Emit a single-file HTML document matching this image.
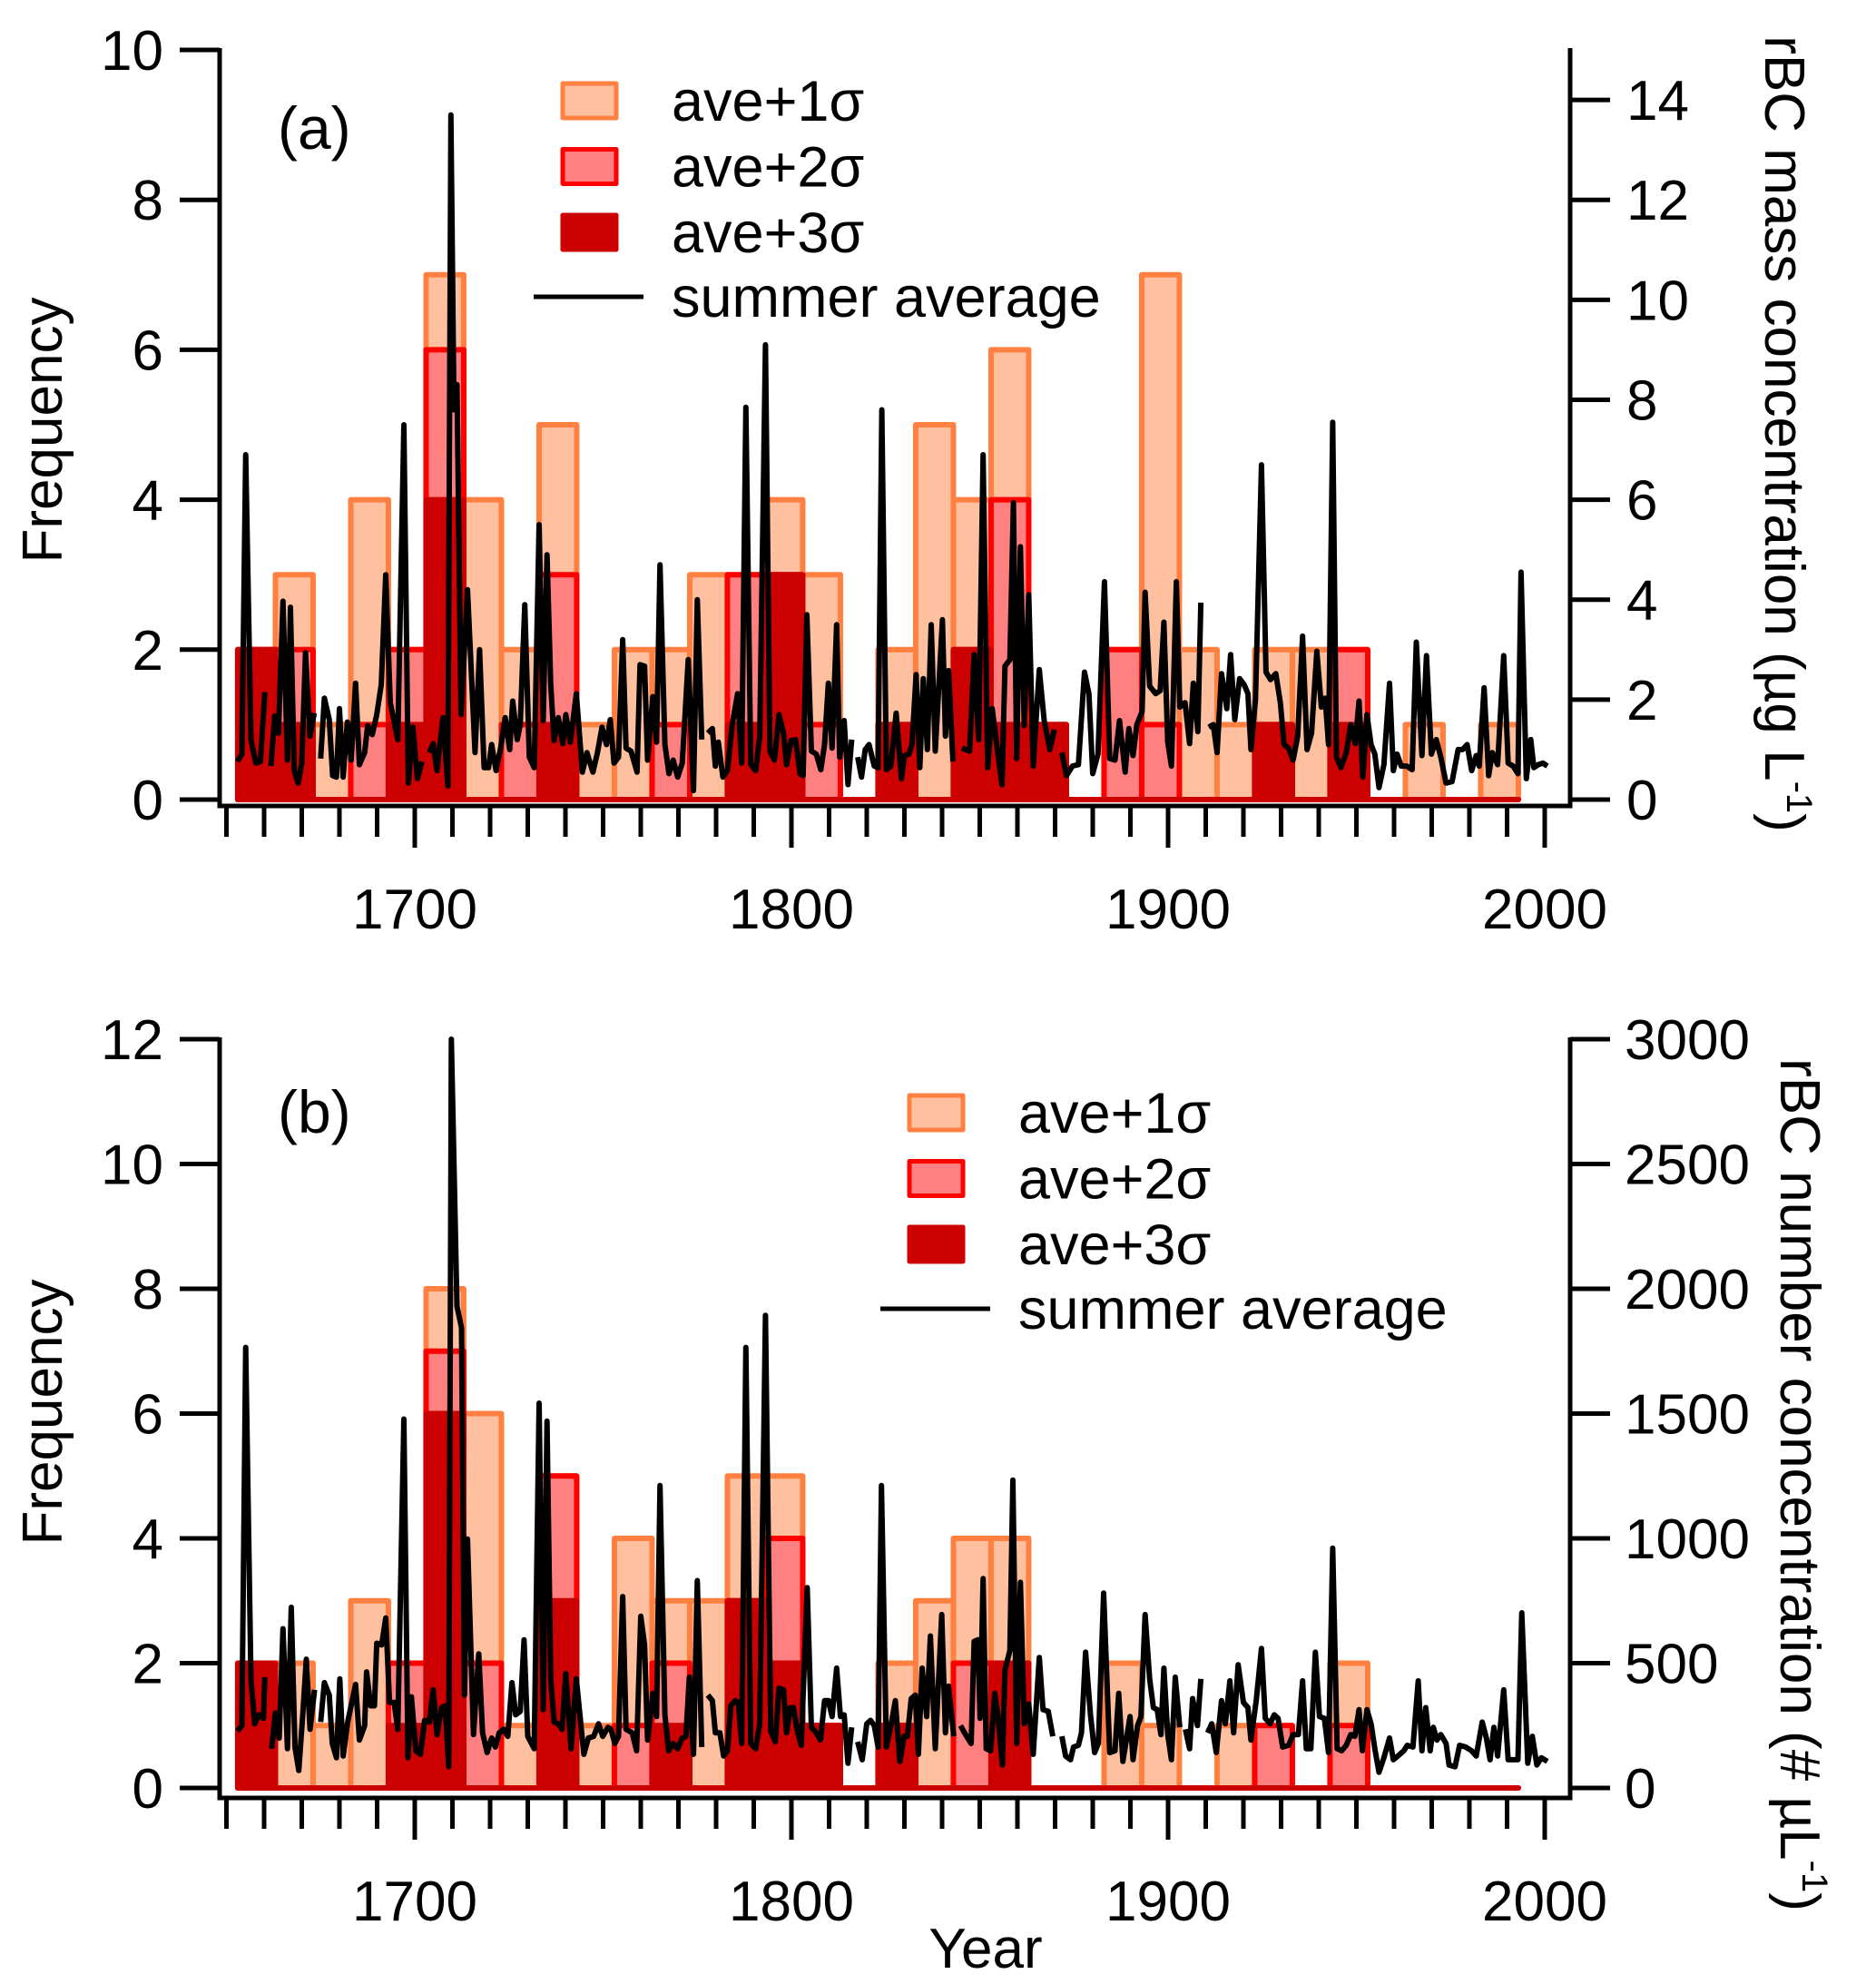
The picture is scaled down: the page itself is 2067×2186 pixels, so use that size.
<!DOCTYPE html>
<html><head><meta charset="utf-8"><style>
html,body{margin:0;padding:0;background:#fff;}
svg{display:block;font-family:"Liberation Sans",Arial,sans-serif;}
</style></head><body>
<svg id="chart" width="2067" height="2186" viewBox="0 0 2067 2186" xmlns="http://www.w3.org/2000/svg">
<rect x="0" y="0" width="2067" height="2186" fill="#fff"/>
<g id="panelA"></g>
<g id="panelB"></g>
</svg>
<script>
// ---------- data ----------
const binStarts = [1653,1663,1673,1683,1693,1703,1713,1723,1733,1743,1753,1763,1773,1783,1793,1803,1813,1823,1833,1843,1853,1863,1873,1883,1893,1903,1913,1923,1933,1943,1953,1963,1973,1983];
const aSig1 = [2,3,1,4,2,7,4,2,5,1,2,2,3,3,4,3,0,2,5,4,6,1,0,2,7,2,1,2,2,2,0,1,0,1];
const aSig2 = [2,2,0,1,2,6,0,1,3,0,0,1,0,3,3,1,0,1,0,2,4,1,0,2,1,0,0,1,0,2,0,0,0,0];
const aSig3 = [2,1,0,0,1,4,0,0,1,0,0,0,0,1,3,0,0,1,0,2,1,1,0,0,0,0,0,1,0,1,0,0,0,0];
const bSig1 = [2,2,1,3,2,8,6,1,5,1,4,3,3,5,5,1,0,2,3,4,4,0,0,2,1,0,1,1,0,2,0,0,0,0];
const bSig2 = [2,0,0,0,2,7,2,0,5,0,1,2,0,3,4,1,0,1,0,2,2,0,0,0,0,0,0,1,0,1,0,0,0,0];
const bSig3 = [2,0,0,0,1,6,0,0,3,0,0,1,0,3,2,1,0,1,0,0,2,0,0,0,0,0,0,0,0,0,0,0,0,0];

const yearsA = [1652.9,1654.1,1655.1,1656.5,1657.8,1659.0,1660.2,1661,1661.8,1662.8,1663.8,1665.0,1666.2,1667.0,1668.0,1669.0,1670.0,1671.0,1672.2,1673.3,1674,1675.0,1676.0,1677.3,1678.2,1679.2,1680.0,1681.0,1682.1,1683.1,1684.3,1685.3,1686.7,1687.5,1688.7,1689.9,1691.1,1692.3,1693.5,1695.5,1697.1,1698.3,1699.5,1700.7,1701.9,1703,1703.9,1704.9,1705.9,1707.5,1708.8,1709.6,1710.4,1711.2,1712.3,1714.0,1716.0,1717.2,1718.4,1719.6,1720.4,1721.6,1722.8,1724.0,1725.2,1726.0,1727.2,1728.0,1729.2,1730.4,1731.7,1733.0,1734.1,1735.1,1736.1,1737.0,1738.1,1739.3,1740.1,1741.3,1742.9,1744.5,1745.7,1747.3,1748.5,1749.7,1750.9,1751.9,1752.9,1754.1,1755.2,1756.1,1757.4,1759.0,1759.8,1761.0,1761.8,1763.2,1764.2,1765.1,1766.4,1767.5,1768.6,1769.8,1771.0,1772.6,1774.0,1775.0,1776.2,1777,1777.8,1779.0,1779.8,1780.6,1781.8,1783.0,1784.3,1785.7,1786.8,1787.9,1789.2,1790.5,1791.6,1793.1,1794.3,1795.5,1796.7,1797.9,1798.7,1799.9,1801.1,1802.3,1803.1,1804.1,1805.3,1806.6,1807.8,1808.8,1809.8,1810.8,1812.0,1812.8,1814.0,1815.0,1816.0,1817,1817.6,1818.6,1819.6,1820.6,1822.0,1823.0,1824.0,1825.2,1826.4,1827.8,1829.2,1830.0,1831.2,1832.0,1833.1,1834.1,1835.0,1836.1,1837.1,1838.2,1840.1,1840.9,1841.7,1842.9,1844,1845.3,1847.3,1848.5,1849.7,1850.9,1852.1,1853.3,1854.5,1855.9,1856.7,1858.0,1858.95,1859.8,1860.8,1861.8,1863.0,1864.2,1865.8,1867.1,1868.6,1869.8,1871,1871.8,1873.0,1874.6,1876.2,1877.8,1879.0,1880.0,1881.4,1883.1,1884.5,1885.9,1887.1,1888.6,1889.6,1890.7,1891.7,1893.1,1893.9,1895.1,1896.7,1897.9,1898.9,1899.9,1900.9,1902.2,1903.1,1904.5,1905.7,1906.7,1907.9,1908.7,1910,1910.8,1912.0,1913.0,1914.2,1915.6,1916.6,1917.7,1919.0,1920.2,1921.2,1922.0,1923.2,1924.8,1926.0,1927.2,1928.6,1929.8,1930.8,1932.0,1933.2,1934.4,1935.7,1936.9,1938.1,1939.5,1940.7,1941.7,1942.6,1943.7,1944.7,1945.9,1947.3,1948.5,1949.7,1950.7,1951.7,1952.8,1953.9,1954.9,1956.0,1957.3,1958.8,1959.8,1960.8,1961.9,1963.4,1964.8,1965.9,1967.4,1968.6,1969.9,1971.2,1972.4,1973.8,1975.4,1977.0,1978.2,1979.4,1980.6,1981.8,1982.6,1983.9,1985.1,1986.1,1987.5,1989.1,1990.3,1991.6,1992.9,1993.7,1995.1,1996.3,1997.1,1998.3,1999.5,2000.7];
const valsA = [0.76,0.91,6.9,1.2,0.73,0.76,2.15,null,0.67,1.67,1.33,3.97,0.79,3.85,0.58,0.33,0.73,2.94,1.27,1.73,null,0.82,2.03,1.6,0.48,0.45,1.82,0.45,1.55,0.79,2.33,0.7,0.94,1.48,1.3,1.7,2.3,4.5,1.94,1.2,7.5,0.33,1.45,0.42,0.76,null,0.94,1.12,0.58,1.64,0.27,13.7,7.8,8.3,1.7,4.2,0.94,3.0,0.64,0.64,1.1,0.58,1.03,1.64,1.0,1.97,1.2,1.5,3.9,0.85,0.64,5.5,1.58,4.9,2.3,1.18,1.64,1.12,1.7,1.15,2.12,0.55,0.94,0.55,0.94,1.45,1.1,1.6,0.73,0.85,3.2,1.03,0.97,0.55,2.7,2.67,0.79,2.06,1.15,4.7,1.1,0.52,0.79,0.45,0.73,2.8,0.18,4.0,1.2,null,1.33,1.42,0.67,1.15,0.45,0.58,1.5,2.12,0.73,7.85,0.7,0.58,1.27,9.1,0.97,0.79,1.7,1.33,0.7,1.18,1.2,0.52,0.48,3.7,0.97,0.91,0.6,1.1,2.33,1.03,3.5,0.85,1.58,0.3,1.2,null,0.85,0.45,1.0,1.1,0.67,0.64,7.8,0.6,0.67,1.73,0.42,0.88,0.91,1.1,2.5,0.64,2.42,1.0,3.5,0.97,3.6,1.27,2.58,0.76,null,1.03,0.97,2.9,1.2,6.9,0.64,1.82,1.1,0.3,2.67,2.8,5.94,0.82,5.06,1.48,4.1,0.67,2.6,1.58,1.0,1.4,null,0.94,0.48,0.67,0.7,2.55,2.12,0.52,0.91,4.36,0.82,0.79,1.58,0.55,1.42,0.88,1.5,1.76,4.15,2.27,2.12,2.18,3.55,1.15,0.67,4.36,1.85,1.94,1.12,2.33,1.36,3.94,null,1.45,1.5,0.94,2.52,1.82,2.9,1.6,2.42,2.3,2.12,1.0,2.0,6.7,2.55,2.4,2.52,1.94,1.1,1.03,0.79,1.27,3.27,1.0,1.33,2.97,1.85,2.03,1.1,7.55,0.85,0.64,0.94,1.5,1.12,1.97,0.45,1.7,1.1,0.91,0.24,0.7,2.33,0.58,0.91,0.67,0.67,0.6,3.15,0.88,2.88,0.91,1.2,0.85,0.33,0.36,1.0,1.0,1.1,0.58,0.88,0.67,2.24,0.48,0.94,0.7,2.88,0.73,0.67,0.52,4.55,0.42,1.2,0.64,0.7,0.73,0.67];

const yearsB = [1652.9,1654.1,1655.1,1656.5,1657.5,1658.6,1659.8,1660.2,1661,1662.0,1663.0,1664.0,1665.0,1666.2,1667.2,1668.2,1669.2,1670.2,1671.2,1672.2,1673.4,1674,1675.0,1676.0,1677.3,1678.1,1679.2,1680.1,1681.0,1682.2,1684.3,1685.3,1686.7,1687.2,1688.3,1689.3,1689.9,1691.2,1692.3,1693.3,1694.5,1695.5,1697.1,1698.2,1699.1,1700.3,1701.5,1702.6,1703.9,1704.9,1705.9,1707.1,1708.1,1709.0,1709.7,1711.2,1712.4,1713.2,1714.0,1715.6,1717.0,1718.0,1719.2,1720.4,1721.4,1722.4,1723.6,1724.7,1725.8,1726.8,1728.0,1729.0,1730.0,1731.7,1733.0,1734.1,1735.1,1736.1,1737.0,1738.1,1739.1,1740.1,1741.5,1742.9,1744.9,1746.1,1747.5,1748.8,1749.9,1751.3,1752.1,1753.1,1754.1,1755.2,1756.1,1757.7,1758.9,1760.0,1761.0,1761.8,1763.2,1764.2,1765.1,1766.4,1767.4,1768.6,1769.8,1771.0,1772.0,1772.9,1774.0,1775.0,1776.2,1777,1777.8,1779.0,1779.8,1781.0,1782.0,1783.0,1783.9,1785.1,1785.9,1786.8,1787.9,1789.2,1790.5,1791.6,1793.1,1794.5,1795.7,1796.7,1797.9,1798.7,1799.7,1800.5,1801.5,1802.6,1804.2,1805.3,1806.6,1807.7,1808.8,1809.8,1810.8,1812.0,1813.0,1814.0,1815.0,1816.0,1817,1817.6,1818.8,1820.0,1821.0,1822.0,1823.0,1823.9,1825.2,1826.4,1827.6,1828.8,1829.9,1830.8,1831.8,1832.9,1833.7,1834.7,1835.9,1836.9,1838.2,1839.9,1840.9,1841.7,1843.1,1844,1844.9,1846.5,1847.7,1848.5,1849.5,1850.1,1850.9,1851.7,1852.9,1854.0,1854.9,1856.0,1856.7,1858.0,1858.8,1859.8,1860.8,1861.8,1863.0,1864.2,1865.8,1866.8,1868.2,1869.4,1870.5,1871.8,1872.8,1874.1,1874.9,1876.2,1877.0,1878.1,1879.4,1880.5,1881.5,1882.9,1884.5,1885.9,1886.9,1888.0,1889.9,1890.7,1891.9,1892.8,1893.9,1895.1,1896.1,1897.1,1898.1,1898.9,1899.9,1900.9,1901.9,1903.1,1903.8,1904.6,1905.7,1906.5,1907.8,1908.7,1909.6,1910.5,1911.6,1912.8,1914.2,1915.2,1916.4,1917.4,1918.6,1920.0,1921.2,1922.0,1923.4,1924.8,1925.8,1927.1,1928.2,1929.2,1930.4,1932.0,1933.2,1934.6,1935.7,1936.7,1937.9,1939.1,1940.2,1941.5,1942.6,1943.7,1944.9,1946.1,1947.3,1948.5,1949.6,1950.7,1951.6,1952.8,1953.9,1954.9,1956.0,1957.3,1958.8,1959.8,1961.0,1962.6,1963.5,1965.0,1966.4,1967.4,1968.4,1969.6,1970.4,1971.4,1972.4,1973.8,1974.6,1976.2,1977.4,1979.0,1980.6,1981.8,1983.4,1984.5,1985.5,1986.5,1987.5,1989.1,1990.3,1991.5,1992.9,1993.9,1995.5,1996.7,1997.9,1999.1,2000.7];
const valsB = [228,250,1765,437,257,293,279,444,null,157,300,200,638,157,724,164,70,279,516,235,393,null,264,422,372,178,121,437,128,264,415,192,250,465,329,329,580,573,681,343,343,235,1478,121,365,149,135,271,264,393,214,322,329,85,3000,1930,1844,372,997,214,537,221,142,200,164,221,235,207,422,293,307,594,207,157,1542,314,1470,437,264,257,235,458,157,437,135,200,207,257,207,243,235,178,207,767,235,221,149,688,573,192,379,286,1212,293,149,178,157,200,207,444,135,831,164,null,372,350,221,221,128,149,329,350,343,178,1765,178,157,257,1894,228,185,400,393,221,322,322,235,171,803,243,221,192,350,350,286,480,286,293,99,243,null,185,113,257,271,250,164,1212,164,250,350,106,207,207,358,372,135,480,286,609,157,695,221,408,207,null,250,207,178,587,594,279,839,157,149,379,279,92,472,551,1234,178,824,257,336,135,523,314,307,207,null,207,128,113,164,171,221,544,293,142,178,781,142,149,379,106,286,113,250,286,695,437,322,314,214,480,214,113,444,243,null,235,157,358,250,437,null,221,257,142,350,257,429,221,494,343,322,192,350,559,279,257,293,279,164,171,214,214,429,157,157,544,286,279,142,961,157,149,171,214,207,314,149,314,257,157,63,121,200,113,128,149,171,164,429,149,322,149,243,192,214,178,92,85,171,164,149,128,264,200,113,243,128,393,113,113,113,702,99,207,92,121,106];

const yLeftTicksA = [0,2,4,6,8,10];
const yRightTicksA = [0,2,4,6,8,10,12,14];
const yLeftTicksB = [0,2,4,6,8,10,12];
const yRightTicksB = [0,500,1000,1500,2000,2500,3000];
const xTickLabels = [1700,1800,1900,2000];

// ---------- drawing ----------
const NS = "http://www.w3.org/2000/svg";
function mk(parent, tag, attrs){
  const e = document.createElementNS(NS, tag);
  for (const k in attrs) e.setAttribute(k, attrs[k]);
  parent.appendChild(e);
  return e;
}
function xYear(yr){ return 457 + (yr - 1700) * 4.15; }
const AX_L = 242, AX_R = 1730;

function drawPanel(g, cfg){
  const yL = v => cfg.zero - v / cfg.leftMax * (cfg.zero - cfg.top);
  const yR = v => cfg.zero - v / cfg.rightMax * (cfg.zero - cfg.top);
  const series = [
    {vals: cfg.s1, fill: "#FFC09F", stroke: "#FF8040", name: "bar-ave-plus-1sigma"},
    {vals: cfg.s2, fill: "#FF8080", stroke: "#FF0000", name: "bar-ave-plus-2sigma"},
    {vals: cfg.s3, fill: "#CC0000", stroke: "#CC0000", name: "bar-ave-plus-3sigma"}
  ];
  series.forEach(s => {
    s.vals.forEach((v, i) => {
      const x0 = xYear(binStarts[i]), x1 = xYear(binStarts[i] + 10), y = yL(v);
      const p = mk(g, "path", {d: `M${x0},${cfg.zero} V${y} H${x1} V${cfg.zero} Z`, fill: s.fill, stroke: s.stroke, "stroke-width": 6, "stroke-linejoin": "round"});
      
      
    });
  });
  let d = "", pen = false;
  cfg.years.forEach((yr, i) => {
    const v = cfg.vals[i];
    if (v === null) { pen = false; return; }
    d += (pen ? "L" : "M") + xYear(yr).toFixed(1) + "," + yR(v).toFixed(1) + " ";
    pen = true;
  });
  const ln = mk(g, "path", {d: d, fill: "none", stroke: "#000", "stroke-width": 6, "stroke-linejoin": "round"});
  
  

  const axY = cfg.axisY;
  const axes = mk(g, "path", {d: `M${AX_L},${cfg.top-2} V${axY} H${AX_R} V${cfg.top-2}`, fill: "none", stroke: "#000", "stroke-width": 5});
  
  
  cfg.lt.forEach(t => {
    const y = yL(t);
    const tk = mk(g, "line", {x1: AX_L - 44, x2: AX_L, y1: y, y2: y, stroke: "#000", "stroke-width": 5});
    
    
    const tx = mk(g, "text", {x: 180, y: y + 22, "font-size": 62, "text-anchor": "end"});
    tx.textContent = t;
    
    
  });
  cfg.rt.forEach(t => {
    const y = yR(t);
    const tk = mk(g, "line", {x1: AX_R, x2: AX_R + 44, y1: y, y2: y, stroke: "#000", "stroke-width": 5});
    
    
    const tx = mk(g, "text", {x: cfg.rLabX, y: y + 22, "font-size": 62});
    tx.textContent = t;
    
    
  });
  for (let yr = 1650; yr <= 2000; yr += 10) {
    const x = xYear(yr), major = yr % 100 === 0;
    const tk = mk(g, "line", {x1: x, x2: x, y1: axY, y2: axY + (major ? 46 : 34), stroke: "#000", "stroke-width": 5});
    
    
  }
  xTickLabels.forEach(yr => {
    const tx = mk(g, "text", {x: xYear(yr), y: cfg.xLabY, "font-size": 62, "text-anchor": "middle"});
    tx.textContent = yr;
    
    
  });
  const ft = mk(g, "text", {x: 0, y: 0, "font-size": 62, "text-anchor": "middle", transform: `translate(68,${cfg.freqY}) rotate(-90)`});
  ft.textContent = "Frequency";
  
  
  const rt = mk(g, "text", {x: 0, y: 0, "font-size": 62, "text-anchor": "middle", transform: `translate(${cfg.rtX},${cfg.rtY}) rotate(90)`});
  rt.innerHTML = cfg.rtHtml;
  
  
  const pl = mk(g, "text", {x: 306, y: cfg.plY, "font-size": 66});
  pl.textContent = cfg.panelLabel;
  
  

  const lg = mk(g, "g", {});
  
  
  const labels = ["ave+1σ", "ave+2σ", "ave+3σ"];
  series.forEach((s, i) => {
    const cy = cfg.legY + i * 72.5;
    const sw = mk(lg, "rect", {x: cfg.legX, y: cy - 19, width: 59, height: 38, fill: s.fill, stroke: s.stroke, "stroke-width": 5, "stroke-linejoin": "round"});
    
    
    const t = mk(lg, "text", {x: cfg.legX + 120, y: cy + 22, "font-size": 63});
    t.textContent = labels[i];
    
    
  });
  const ly = cfg.legY + 3 * 72;
  const ll = mk(lg, "line", {x1: cfg.legX - 32, x2: cfg.legX + 89, y1: ly, y2: ly, stroke: "#000", "stroke-width": 5});
  
  
  const lt = mk(lg, "text", {x: cfg.legX + 120, y: ly + 22, "font-size": 63});
  lt.textContent = "summer average";
  
  
}

drawPanel(document.getElementById("panelA"), {
  zero: 881, top: 55, leftMax: 10, rightMax: 15, axisY: 888, xLabY: 1023,
  s1: aSig1, s2: aSig2, s3: aSig3, years: yearsA, vals: valsA,
  lt: yLeftTicksA, rt: yRightTicksA, freqY: 474, rtX: 1945, rtY: 478, rLabX: 1792,
  rtHtml: 'rBC mass concentration (µg L<tspan dy="-24" font-size="40">-1</tspan><tspan dy="24">)</tspan>',
  panelLabel: "(a)", plY: 164, legX: 620, legY: 111
});
drawPanel(document.getElementById("panelB"), {
  zero: 1970, top: 1145, leftMax: 12, rightMax: 3000, axisY: 1981, xLabY: 2116,
  s1: bSig1, s2: bSig2, s3: bSig3, years: yearsB, vals: valsB,
  lt: yLeftTicksB, rt: yRightTicksB, freqY: 1556, rtX: 1962, rtY: 1636, rLabX: 1790,
  rtHtml: 'rBC number concentration  (# µL<tspan dy="-24" font-size="40">-1</tspan><tspan dy="24">)</tspan>',
  panelLabel: "(b)", plY: 1248, legX: 1002, legY: 1226
});
const yt = mk(document.getElementById("chart"), "text", {x: 1086, y: 2168, "font-size": 62, "text-anchor": "middle"});
yt.textContent = "Year";


</script>
</body></html>
